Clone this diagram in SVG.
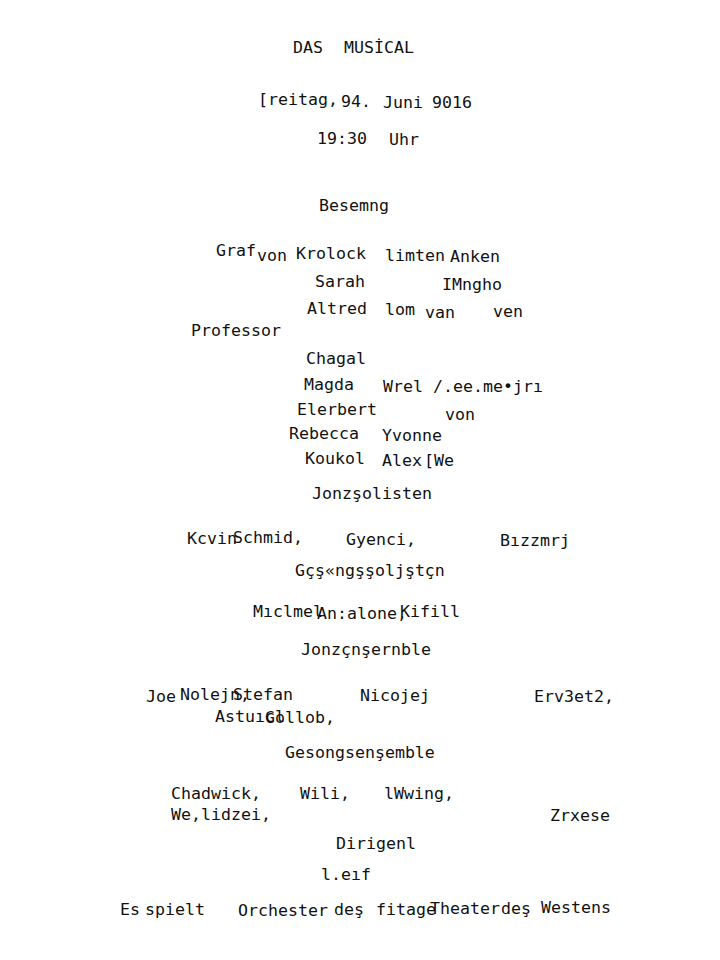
<svg xmlns="http://www.w3.org/2000/svg" width="720" height="960" viewBox="0 0 720 960">
<style>
text{font-family:"DejaVu Sans Mono","Liberation Mono",monospace;font-size:16.6px;fill:#111;}
</style>
<rect width="720" height="960" fill="#fff"/>
<g id="title">
<text x="293" y="53">DAS</text>
<text x="344" y="53">MUSİCAL</text>
<text x="258" y="105">[reitag,</text>
<text x="341" y="107">94.</text>
<text x="383" y="108">Juni</text>
<text x="432" y="108">9016</text>
<text x="317" y="144">19:30</text>
<text x="389" y="145">Uhr</text>
</g>
<g id="besetzung">
<text x="319" y="211">Besemng</text>
<text x="216" y="256">Graf</text>
<text x="257" y="261">von</text>
<text x="296" y="259">Krolock</text>
<text x="385" y="261">limten</text>
<text x="450" y="262">Anken</text>
<text x="315" y="287">Sarah</text>
<text x="442" y="290">IMngho</text>
<text x="307" y="314">Altred</text>
<text x="385" y="315">lom</text>
<text x="425" y="318">van</text>
<text x="493" y="317">ven</text>
<text x="191" y="336">Professor</text>
<text x="306" y="364">Chagal</text>
<text x="304" y="390">Magda</text>
<text x="383" y="392">Wrel</text>
<text x="433" y="392">/.ee.me•jrı</text>
<text x="297" y="415">Elerbert</text>
<text x="445" y="420">von</text>
<text x="289" y="439">Rebecca</text>
<text x="382" y="441">Yvonne</text>
<text x="305" y="464">Koukol</text>
<text x="382" y="466">Alex</text>
<text x="424" y="466">[We</text>
</g>
<g id="tanzsolisten">
<text x="312" y="499">Jonzşolisten</text>
<text x="187" y="544">Kcvin</text>
<text x="233" y="543">Schmid,</text>
<text x="346" y="545">Gyenci,</text>
<text x="500" y="546">Bızzmrj</text>
</g>
<g id="gesangssolisten">
<text x="295" y="576">Gçş«ngşşoljştçn</text>
<text x="253" y="617">Mıclmel</text>
<text x="317" y="619">An:alone,</text>
<text x="400" y="617">Kifill</text>
</g>
<g id="tanzensemble">
<text x="301" y="655">Jonzçnşernble</text>
<text x="146" y="702">Joe</text>
<text x="180" y="700">Nolejn,</text>
<text x="233" y="700">Stefan</text>
<text x="360" y="701">Nicojej</text>
<text x="534" y="702">Erv3et2,</text>
<text x="215" y="722">Astuıcl</text>
<text x="265" y="723">Gollob,</text>
</g>
<g id="gesangsensemble">
<text x="285" y="758">Gesongsenşemble</text>
<text x="171" y="799">Chadwick,</text>
<text x="300" y="799">Wili,</text>
<text x="384" y="799">lWwing,</text>
<text x="171" y="820">We,lidzei,</text>
<text x="550" y="821">Zrxese</text>
</g>
<g id="dirigent">
<text x="336" y="849">Dirigenl</text>
<text x="321" y="880">l.eıf</text>
</g>
<g id="orchester">
<text x="120" y="915">Es</text>
<text x="145" y="915">spielt</text>
<text x="238" y="916">Orchester</text>
<text x="334" y="915">deş</text>
<text x="376" y="915">fitage</text>
<text x="430" y="914">Theater</text>
<text x="501" y="914">deş</text>
<text x="541" y="913">Westens</text>
</g>
</svg>
